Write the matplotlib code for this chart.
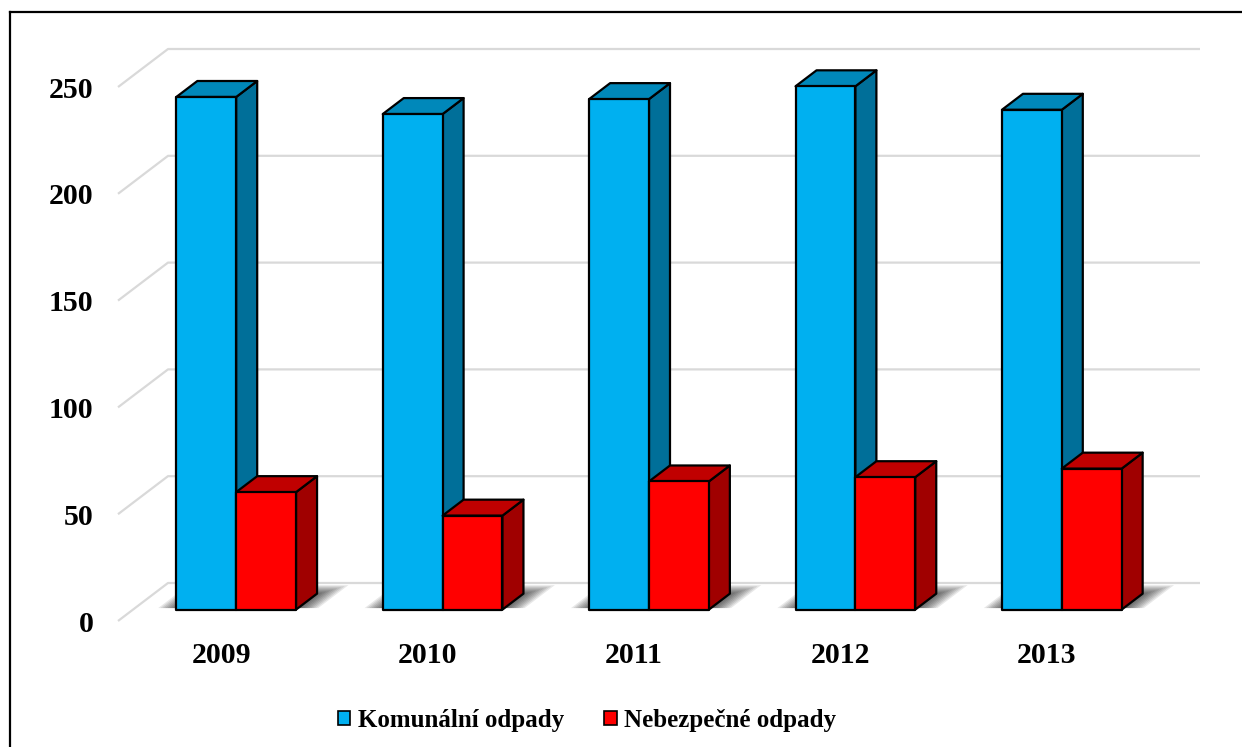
import matplotlib
matplotlib.use('Agg')
import matplotlib.pyplot as plt
from matplotlib.patches import Polygon, Patch
from matplotlib.lines import Line2D

# ---- data ----
years = ['2009', '2010', '2011', '2012', '2013']
komunalni = [240, 232, 239, 245, 234]
nebezpecne = [55, 44, 60, 62, 66]
series_names = ['Komunální odpady', 'Nebezpečné odpady']
yticks = [0, 50, 100, 150, 200, 250]

# ---- style ----
W, H = 1242, 747
plt.rcParams['font.family'] = ['Liberation Serif', 'DejaVu Serif']
plt.rcParams['font.weight'] = 'bold'

colors = {
    'blue': ('#00B0F0', '#0088BA', '#006F99'),   # front, top, side
    'red': ('#FF0000', '#C00000', '#A00000'),
}

fig = plt.figure(figsize=(W / 100, H / 100), dpi=100)
ax = fig.add_axes([118 / W, (H - 621) / H, 1032 / W, 534 / H])
ax.set_xlim(-0.5, len(years) - 0.5)
ax.set_ylim(0, 250)

# oblique depth projection (data units per unit depth)
DX = 50 / 206.4
DY = 38 / 2.136


def P(x, v, d):
    return (x + d * DX, v + d * DY)


# back wall and side wall gridlines
x_lo, x_hi = -0.5, len(years) - 0.5
for v in yticks:
    pts = [P(x_lo, v, 0), P(x_lo, v, 1), P(x_hi, v, 1)]
    ax.plot([p[0] for p in pts], [p[1] for p in pts], color='#D9D9D9',
            lw=1.6, clip_on=False, zorder=1, solid_capstyle='butt')

d0, d1 = 0.30, 0.72
bw = 0.29


def shadow(x0, x1):
    n = 9
    for k in range(n):
        e = 0.01 + k * 0.011
        ed = k * 0.028
        poly = [P(x0 - e, 0, d0 + 0.04), P(x1 + e, 0, d0 + 0.04),
                P(x1 + e, 0, d1 + ed), P(x0 - e, 0, d1 + ed)]
        ax.add_patch(Polygon(poly, closed=True, facecolor='black',
                             edgecolor='none', alpha=0.09, zorder=2,
                             clip_on=False))


def bar3d(x0, x1, h, cols, z):
    front = [P(x0, 0, d0), P(x1, 0, d0), P(x1, h, d0), P(x0, h, d0)]
    top = [P(x0, h, d0), P(x1, h, d0), P(x1, h, d1), P(x0, h, d1)]
    side = [P(x1, 0, d0), P(x1, 0, d1), P(x1, h, d1), P(x1, h, d0)]
    for poly, c in ((side, cols[2]), (top, cols[1]), (front, cols[0])):
        ax.add_patch(Polygon(poly, closed=True, facecolor=c,
                             edgecolor='black', lw=1.6, joinstyle='round',
                             zorder=z, clip_on=False))


for i in range(len(years)):
    shadow(i - bw, i + bw)
for i in range(len(years)):
    bar3d(i - bw, i, komunalni[i], colors['blue'], 3 + i * 0.1)
    bar3d(i, i + bw, nebezpecne[i], colors['red'], 3.05 + i * 0.1)

# axes / ticks
for s in ax.spines.values():
    s.set_visible(False)
ax.set_yticks(yticks)
ax.set_yticklabels([str(t) for t in yticks], fontsize=21.5, fontweight='bold')
ax.set_xticks(range(len(years)))
ax.set_xticklabels(years, fontsize=21.5, fontweight='bold')
ax.tick_params(axis='y', length=0, pad=17.5)
ax.tick_params(axis='x', length=0, pad=15)
ax.patch.set_visible(False)

# legend
handles = [Patch(facecolor=colors['blue'][0], edgecolor='black', lw=1.2),
           Patch(facecolor=colors['red'][0], edgecolor='black', lw=1.2)]
fig.legend(handles, series_names, loc='center', ncol=2,
           bbox_to_anchor=(587 / W, 1 - 720 / H), frameon=False,
           prop={'family': 'Liberation Serif', 'weight': 'bold', 'size': 18},
           handlelength=0.5, handleheight=0.5, handletextpad=0.3,
           columnspacing=1.6)

# chart border (left and top edges visible)
fig.add_artist(Line2D([9.5 / W, 9.5 / W], [-0.1, 1 - 12 / H], color='black', lw=1.6))
fig.add_artist(Line2D([9.5 / W, 1.1], [1 - 12 / H, 1 - 12 / H], color='black', lw=1.6))

fig.savefig('out.png', dpi=100)
